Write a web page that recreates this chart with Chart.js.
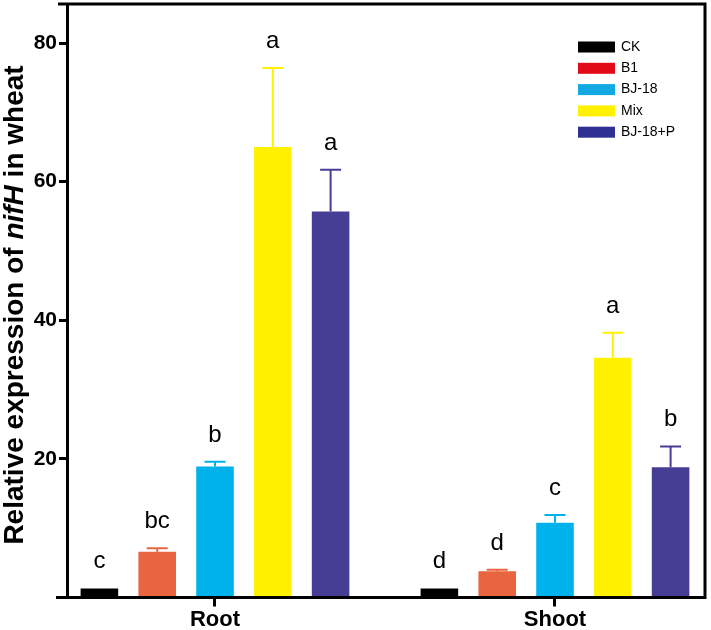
<!DOCTYPE html>
<html>
<head>
<meta charset="utf-8">
<script src="https://cdn.jsdelivr.net/npm/chart.js"></script>
<style>
  body { margin: 0; background: #fff; }
  #wrap { width: 711px; height: 630px; position: relative; }
</style>
</head>
<body>
<div id="wrap"><canvas id="nifh_chart"></canvas></div>
<script>
"use strict";

//--data--
const categories = ['Root', 'Shoot'];
const seriesNames = ['CK', 'B1', 'BJ-18', 'Mix', 'BJ-18+P'];

const ckValues = [1.3, 1.3];
const b1Values = [6.6, 3.8];
const bj18Values = [18.9, 10.8];
const mixValues = [65.0, 34.6];
const bj18pValues = [55.7, 18.8];

//SE (upper bar only)
const ckErrors = [0, 0];
const b1Errors = [0.5, 0.2];
const bj18Errors = [0.7, 1.1];
const mixErrors = [11.4, 3.6];
const bj18pErrors = [6.0, 3.0];

//significance letters
const ckLetters = ['c', 'd'];
const b1Letters = ['bc', 'd'];
const bj18Letters = ['b', 'c'];
const mixLetters = ['a', 'a'];
const bj18pLetters = ['a', 'b'];

const yTicks = [20, 40, 60, 80];

//--styles--
const FONT = "'Liberation Sans', Arial, sans-serif";
const barColors = ['#000000', '#e9653f', '#00b2ec', '#fff100', '#463d95'];
const legendColors = ['#000000', '#e30a17', '#12a8e2', '#fff100', '#2e3192'];

const allValues = [ckValues, b1Values, bj18Values, mixValues, bj18pValues];
const allErrors = [ckErrors, b1Errors, bj18Errors, mixErrors, bj18pErrors];
const allLetters = [ckLetters, b1Letters, bj18Letters, mixLetters, bj18pLetters];

const datasets = seriesNames.map(function (name, s) {
    return {
        label: name,
        data: allValues[s].map(function (v, i) { return { x: i, y: v }; }),
        backgroundColor: barColors[s],
        borderWidth: 0,
        categoryPercentage: 0.85,
        barPercentage: 0.65,
    };
});

//error bars + letters
const errorBarPlugin = {
    id: 'errorBars',
    afterDatasetsDraw(chart) {
        const ctx = chart.ctx;
        const yScale = chart.scales.y;
        ctx.save();
        chart.data.datasets.forEach(function (ds, s) {
            const meta = chart.getDatasetMeta(s);
            meta.data.forEach(function (bar, i) {
                const err = allErrors[s][i];
                const topVal = allValues[s][i] + err;
                const yTop = yScale.getPixelForValue(topVal);
                if (err > 0) {
                    ctx.strokeStyle = barColors[s];
                    ctx.lineWidth = 2;
                    ctx.beginPath();
                    ctx.moveTo(bar.x, bar.y);
                    ctx.lineTo(bar.x, yTop);
                    ctx.moveTo(bar.x - 10.5, yTop);
                    ctx.lineTo(bar.x + 10.5, yTop);
                    ctx.stroke();
                }
                ctx.fillStyle = '#000';
                ctx.font = '24px ' + FONT;
                ctx.textAlign = 'center';
                ctx.textBaseline = 'alphabetic';
                ctx.fillText(allLetters[s][i], bar.x, yTop - 20);
            });
        });
        ctx.restore();
    }
};

//frame, y title, legend
const framePlugin = {
    id: 'frame',
    afterDraw(chart) {
        const ctx = chart.ctx;
        const a = chart.chartArea;
        ctx.save();
        ctx.strokeStyle = '#000';
        ctx.lineWidth = 3;
        ctx.beginPath();
        ctx.moveTo(56, a.bottom);
        ctx.lineTo(a.right, a.bottom);
        ctx.moveTo(58, a.top);
        ctx.lineTo(a.right, a.top);
        ctx.moveTo(a.right, a.top - 1.5);
        ctx.lineTo(a.right, a.bottom + 1.5);
        ctx.stroke();

        //y title with italic gene name
        const parts = [
            { t: 'Relative expression of ', f: 'bold 28px ' + FONT },
            { t: 'nifH', f: 'italic bold 28px ' + FONT },
            { t: ' in wheat', f: 'bold 28px ' + FONT },
        ];
        let total = 0;
        parts.forEach(function (p) { ctx.font = p.f; p.w = ctx.measureText(p.t).width; total += p.w; });
        ctx.translate(23, 305);
        ctx.rotate(-Math.PI / 2);
        ctx.fillStyle = '#000';
        ctx.textAlign = 'left';
        ctx.textBaseline = 'alphabetic';
        let x = -total / 2;
        parts.forEach(function (p) { ctx.font = p.f; ctx.fillText(p.t, x, 0); x += p.w; });
        ctx.setTransform(1, 0, 0, 1, 0, 0);

        //legend
        ctx.font = '14px ' + FONT;
        ctx.textBaseline = 'middle';
        seriesNames.forEach(function (name, s) {
            const cy = 47 + s * 21.3;
            ctx.fillStyle = legendColors[s];
            ctx.fillRect(578, cy - 5.5, 37, 11);
            ctx.fillStyle = '#000';
            ctx.fillText(name, 621, cy);
        });
        ctx.restore();
    }
};

const config = {
    type: 'bar',
    data: { datasets: datasets },
    options: {
        responsive: true,
        maintainAspectRatio: false,
        animation: false,
        layout: { padding: { top: 4, right: 6, bottom: 0, left: 0 } },
        scales: {
            x: {
                type: 'linear',
                offset: false,
                min: -0.4353,
                max: 1.4412,
                afterBuildTicks: function (scale) {
                    scale.ticks = categories.map(function (c, i) { return { value: i }; });
                },
                afterFit: function (scale) {
                    scale.height = 32.5;
                    scale.paddingLeft = 0;
                    scale.paddingRight = 0;
                },
                grid: {
                    offset: false,
                    drawOnChartArea: false,
                    drawTicks: true,
                    tickLength: 9,
                    color: '#000',
                    lineWidth: 3,
                },
                border: { display: false },
                ticks: {
                    padding: 0,
                    maxRotation: 0,
                    color: '#000',
                    font: { family: FONT, size: 22, weight: 'bold' },
                    callback: function (v) { return categories[v] !== undefined ? categories[v] : ''; },
                },
            },
            y: {
                min: 0,
                max: 85.63,
                afterFit: function (scale) {
                    scale.width = 67;
                    scale.paddingTop = 0;
                    scale.paddingBottom = 0;
                },
                grid: {
                    drawOnChartArea: false,
                    drawTicks: true,
                    tickLength: 8,
                    color: '#000',
                    lineWidth: 3,
                },
                border: { display: true, color: '#000', width: 3 },
                ticks: {
                    stepSize: 20,
                    includeBounds: false,
                    padding: 2,
                    color: '#000',
                    font: { family: FONT, size: 21, weight: 'bold' },
                    callback: function (v) { return yTicks.indexOf(v) >= 0 ? v : ''; },
                },
            },
        },
        plugins: {
            legend: { display: false },
            tooltip: { enabled: false },
        },
    },
    plugins: [errorBarPlugin, framePlugin],
};

const nifhChart = new Chart(document.getElementById('nifh_chart'), config);
</script>
</body>
</html>
